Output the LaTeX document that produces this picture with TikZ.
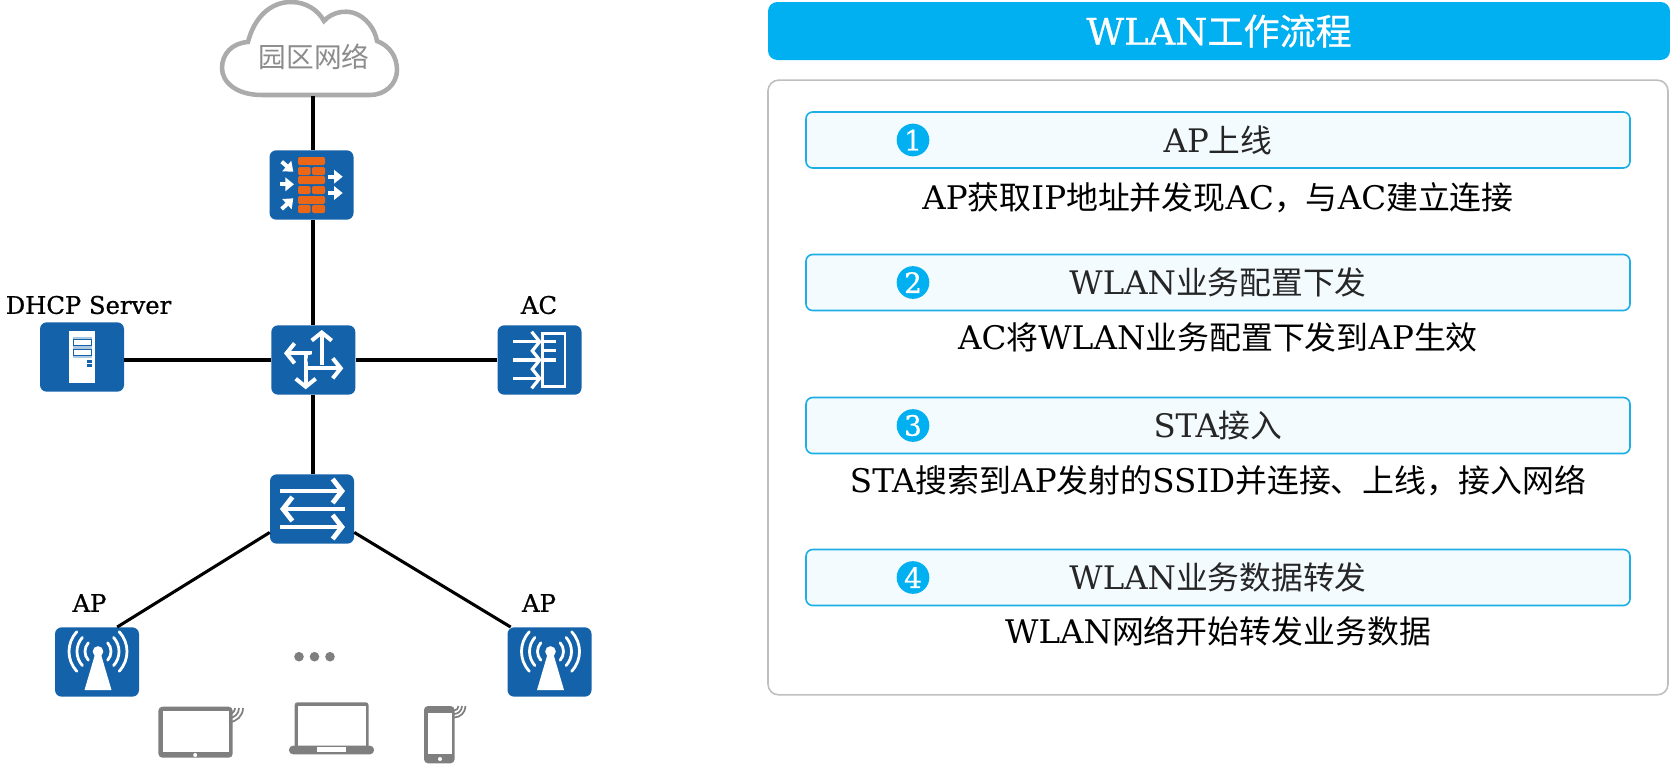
\documentclass[tikz,border=0pt]{standalone}
\usepackage{fontspec}
\setmainfont{DejaVu Serif}
\newfontfamily\labelfont{DejaVu Serif}[FakeBold=0.8]
\newfontfamily\cjk{Noto Sans CJK SC}[Scale=0.98]
\newfontfamily\cjkbold{Noto Sans CJK SC}[Scale=0.98,FakeBold=0.7]
\newcommand{\zh}[1]{{\cjk #1}}
\usetikzlibrary{positioning,calc,arrows.meta}
\definecolor{devblue}{HTML}{1462A9}
\definecolor{wallred}{HTML}{EC6618}
\definecolor{titleblue}{HTML}{00B0F0}
\definecolor{stepfill}{HTML}{F3FBFF}
\definecolor{stepline}{HTML}{1CAEE6}
\definecolor{termgray}{HTML}{7F7F7F}

\begin{document}
\begin{tikzpicture}[
        x=0.75pt, y=-0.75pt,
        device/.style={rectangle, rounded corners=5pt, fill=devblue, minimum width=63pt, minimum height=52pt, inner sep=0pt},
        link/.style={line width=2.3pt},
        devlabel/.style={font=\labelfont\fontsize{18.2}{20}\selectfont},
        stepbox/.style={rectangle, rounded corners=5pt, draw=stepline, line width=1.2pt, fill=stepfill, minimum width=618pt, minimum height=42pt, inner sep=0pt},
        steptext/.style={font=\fontsize{24.3}{28}\selectfont, text=black!85},
        stepnum/.style={circle, fill=titleblue, minimum size=24.5pt, inner sep=0pt, text=white, font=\labelfont\fontsize{21}{22}\selectfont},
        stepdesc/.style={font=\fontsize{24.4}{28}\selectfont},
        glyph/.style={draw=white, line width=3pt, -{Straight Barb[length=6pt, width=15pt]}},
        bigglyph/.style={draw=white, line width=3.6pt, -{Straight Barb[length=7pt, width=18pt]}},
        wave/.style={draw=termgray, line width=1.3pt}
    ]
        \useasboundingbox (0,0) rectangle (1670,764);

        % Cloud
        \draw[draw=black!33, line width=3.4pt, fill=white]
            (262,95) .. controls (236,95) and (222,82) .. (222,68)
            .. controls (222,54) and (232,43) .. (248,42)
            .. controls (254,18) and (270,2) .. (291,2)
            .. controls (306,2) and (318,10) .. (324,21)
            .. controls (332,12) and (345,10) .. (354,13)
            .. controls (366,17) and (375,29) .. (377,41)
            .. controls (390,46) and (397,57) .. (397,70)
            .. controls (397,84) and (385,95) .. (370,95) -- cycle;
        \node[minimum width=130pt, minimum height=72pt, inner sep=0pt] (cloud) at (313,48) {};
        \node[text=black!45, font=\fontsize{21.2}{24}\selectfont] (cloudtext) at (314,57) {\zh{园区网络}};

        % Devices
        \node[device] (firewall) at (311.5,185) {};
        \node[device] (router) at (313.3,360) {};
        \node[device] (server) at (82,357) {};
        \node[device] (ac) at (539.5,360) {};
        \node[device] (switch) at (312,509) {};
        \node[device] (apleft) at (97,662) {};
        \node[device] (apright) at (549.5,662) {};

        % Links
        \draw[link] (cloud.south) -- (cloud.south |- firewall.north);
        \draw[link] (cloud.south |- firewall.south) -- (cloud.south |- router.north);
        \draw[link] (cloud.south |- router.south) -- (cloud.south |- switch.north);
        \draw[link] (server.east |- router) -- (router.west);
        \draw[link] (router.east) -- (ac.west);
        \draw[link] (switch.209) -- (apleft.60);
        \draw[link] (switch.-29) -- (apright.138);

        % Labels
        \node[devlabel] (dhcplabel) at (88.5,305) {DHCP Server};
        \node[devlabel] (aclabel) at (539,305) {AC};
        \node[devlabel] (apleftlabel) at (89.5,603) {AP};
        \node[devlabel] (aprightlabel) at (539,603) {AP};

        % Firewall
        \foreach \y in {157,176,196}
            \fill[wallred, rounded corners=1pt] (298,\y) rectangle (325,\y+8);
        \foreach \y in {167,186,205} {
            \fill[wallred, rounded corners=1pt] (298,\y) rectangle (310.5,\y+8);
            \fill[wallred, rounded corners=1pt] (312,\y) rectangle (325,\y+8);
        }
        \foreach \a/\b/\c/\d in {281.7/161.7/293.3/171.7, 280/184.3/294/184.3, 281.7/209/293.3/198.3, 328.3/176.7/342.7/176.7, 328/193/342.7/193}
            \draw[white, line width=3pt, -{Triangle[length=6.5pt, width=10pt]}] (\a,\b) -- (\c,\d);

        % Router
        \draw[glyph] (312,353.3) -- (284,353.3);
        \draw[glyph] (321.7,365) -- (321.7,330);
        \draw[glyph] (306.7,368.3) -- (343.3,368.3);
        \draw[glyph] (305.7,353.3) -- (305.7,389.3);
        \fill[devblue] (313.3,360) circle (4.5pt);

        % AC
        \draw[white, line width=1.9pt] (542.3,333.3) rectangle (565,386.7);
        \foreach \y in {341.7,360,378.3}
            \draw[glyph, line width=2.4pt] (513.3,\y) -- (541.7,\y);
        \foreach \y in {341.7,350.7,360}
            \draw[white, line width=2.4pt] (542,\y) -- (556,\y);

        % Server
        \fill[white] (69.3,330.7) rectangle (95,383.3);
        \fill[devblue!35] (72.7,336.7) rectangle (92.3,357.7);
        \foreach \y in {339.3,349.3}
            \draw[devblue, fill=white, line width=0.9pt] (73.3,\y) rectangle (91.7,\y+6);
        \foreach \y in {360,364.3}
            \fill[devblue] (87.3,\y) rectangle (92.3,\y+2.8);

        % Switch
        \draw[bigglyph] (280,491) -- (345,491);
        \draw[bigglyph] (345,509) -- (280,509);
        \draw[bigglyph] (280,527) -- (345,527);

        % APs
        \foreach \cx in {98,550.5} {
            \fill[white] (\cx-13.5,690) -- (\cx+13.5,690) -- (\cx+2,651) -- (\cx-2,651) -- cycle;
            \fill[white] (\cx,651.5) circle (4pt);
            \foreach \rr/\aa in {13/42, 21/42, 29/43} {
                \draw[white, line width=2.1pt, line cap=round] (\cx,651.5) ++(\aa:\rr) arc[start angle=\aa, end angle=-\aa, radius=\rr];
                \draw[white, line width=2.1pt, line cap=round] (\cx,651.5) ++(180-\aa:\rr) arc[start angle=180-\aa, end angle=180+\aa, radius=\rr];
            }
        }

        % Dots
        \foreach \x/\nm in {299/a,314.5/b,330/c}
            \node[circle, fill=termgray, minimum size=7.2pt, inner sep=0pt] (dot\nm) at (\x,656.7) {};

        % Tablet
        \fill[termgray, rounded corners=3pt] (158.4,706.7) rectangle (232.7,757.7);
        \fill[white] (162.6,710.7) rectangle (228.5,752.3);
        \fill[white] (195.2,755) circle (1.5pt);
        % Laptop
        \fill[termgray, rounded corners=2pt] (294.7,702.3) rectangle (368.5,748);
        \fill[white] (297.8,705.7) rectangle (365.5,746);
        \fill[termgray, rounded corners=3pt] (289,745.7) rectangle (374,754.3);
        \fill[white] (316.5,746.7) rectangle (346.3,751.7);
        % Phone
        \fill[termgray, rounded corners=3pt] (424,706) rectangle (454.6,763.3);
        \fill[white] (427.5,712.7) rectangle (451.5,754.3);
        \fill[white] (440,759) circle (1.5pt);
        % Waves
        \foreach \wx/\wy/\ra/\rb/\rc in {229/708/6/10/14, 454/706/4.5/8/11.5}
            \foreach \rr in {\ra,\rb,\rc}
                \draw[wave] (\wx+\rr,\wy) arc[start angle=0, end angle=90, radius=\rr];

        % Title
        \node[rectangle, rounded corners=7pt, fill=titleblue, minimum width=676.5pt, minimum height=43.5pt, inner sep=0pt, text=white, font=\labelfont\fontsize{27.6}{30}\selectfont] (title) at (1219,31) {WLAN{\cjkbold 工作流程}};
        \node[rectangle, rounded corners=8pt, draw=black!25, line width=1.2pt, fill=white, minimum width=675pt, minimum height=461pt, inner sep=0pt] (panel) at (1218,387.5) {};

        % Steps
        \foreach \nm/\y/\txt/\dy/\desc in {
            one/140/{AP\zh{上线}}/198/{AP\zh{获取}IP\zh{地址并发现}AC\zh{，与}AC\zh{建立连接}},
            two/282.5/{WLAN\zh{业务配置下发}}/337.5/{AC\zh{将}WLAN\zh{业务配置下发到}AP\zh{生效}},
            three/425.5/{STA\zh{接入}}/480.5/{STA\zh{搜索到}AP\zh{发射的}SSID\zh{并连接、上线，接入网络}},
            four/577.5/{WLAN\zh{业务数据转发}}/631.5/{WLAN\zh{网络开始转发业务数据}}} {
            \node[stepbox] (box\nm) at (1218,\y) {};
            \node[steptext] (text\nm) at (box\nm.center) {\txt};
            \node[stepdesc] (desc\nm) at (1218,\dy) {\desc};
        }
        \foreach \nm/\lab in {one/1,two/2,three/3,four/4}
            \node[stepnum] (num\nm) at (913,0 |- box\nm.center) {\lab};
    \end{tikzpicture}
\end{document}
